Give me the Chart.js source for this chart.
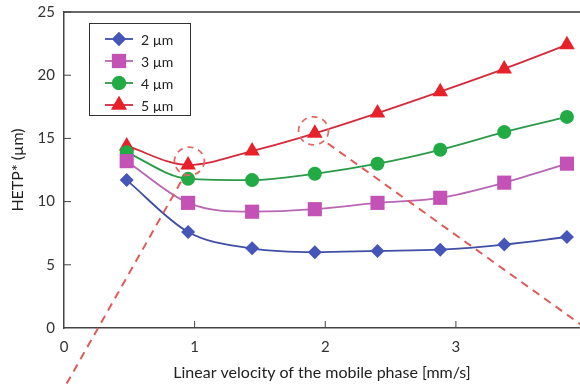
<!DOCTYPE html>
<html>
<head>
<meta charset="utf-8">
<script src="https://cdn.jsdelivr.net/npm/chart.js@4.4.1/dist/chart.umd.min.js"></script>
<style>
  html, body { margin: 0; padding: 0; background: #fff; }
  #wrap { width: 580px; height: 384px; position: relative; }
</style>
</head>
<body>
<div id="wrap"><canvas id="chart"></canvas></div>
<script>
// linear velocity of the mobile phase [mm/s]
var velocity = [0.48, 0.95, 1.44, 1.92, 2.40, 2.88, 3.37, 3.85];
// HETP* (um) per particle size
var hetp2um = [11.7, 7.6, 6.3, 6.0, 6.1, 6.2, 6.6, 7.2];
var hetp3um = [13.2, 9.9, 9.2, 9.4, 9.9, 10.3, 11.5, 13.0];
var hetp4um = [13.9, 11.8, 11.7, 12.2, 13.0, 14.1, 15.5, 16.7];
var hetp5um = [14.4, 12.9, 14.0, 15.4, 17.0, 18.7, 20.5, 22.4];
var seriesLabels = ['2 µm', '3 µm', '4 µm', '5 µm'];

// dashed red guide lines and the circled points
var guideA_x = [0.02, 0.93];
var guideA_y = [-4.4, 12.2];
var guideB_x = [2.02, 3.98];
var guideB_y = [14.6, 0.1];
var circled_x = [0.96, 1.91];
var circled_y = [13.2, 15.6];

var FONT = 'Lato, "Noto Sans", sans-serif';

function pts(xs, ys) {
  return xs.map(function (x, i) { return { x: x, y: ys[i] }; });
}

function series(label, data, line, fill, style, radius) {
  return {
    label: label,
    data: pts(velocity, data),
    borderColor: line,
    backgroundColor: fill,
    borderWidth: 1.8,
    pointStyle: style,
    pointRadius: radius,
    pointBorderWidth: 0,
    pointBackgroundColor: fill,
    tension: 0.4,
    cubicInterpolationMode: 'monotone',
    isSeries: true
  };
}

function guide(xs, ys) {
  return {
    label: 'guide',
    data: pts(xs, ys),
    borderColor: '#e05a5a',
    borderWidth: 2,
    borderDash: [8, 6],
    pointRadius: 0,
    clip: false,
    order: -1,
    isSeries: false
  };
}

var extras = {
  id: 'extras',
  afterDraw: function (chart) {
    var ctx = chart.ctx;
    var area = chart.chartArea;
    var xs = chart.scales.x, ys = chart.scales.y;
    ctx.save();

    // top frame line
    ctx.strokeStyle = '#333';
    ctx.lineWidth = 1.3;
    ctx.beginPath();
    ctx.moveTo(area.left, area.top);
    ctx.lineTo(area.right, area.top);
    ctx.stroke();

    // inside tick marks
    ctx.lineWidth = 1;
    ctx.strokeStyle = '#444';
    xs.ticks.forEach(function (t) {
      if (t.value === 0) return;
      var px = xs.getPixelForValue(t.value);
      ctx.beginPath();
      ctx.moveTo(px, area.bottom);
      ctx.lineTo(px, area.bottom - 7);
      ctx.stroke();
    });
    ys.ticks.forEach(function (t) {
      if (t.value === 0) return;
      var py = ys.getPixelForValue(t.value);
      ctx.beginPath();
      ctx.moveTo(area.left, py);
      ctx.lineTo(area.left + 7, py);
      ctx.stroke();
    });

    // dashed circles round the marked points
    ctx.strokeStyle = '#e06a6a';
    ctx.lineWidth = 1.8;
    ctx.setLineDash([6, 5]);
    circled_x.forEach(function (cx, i) {
      ctx.beginPath();
      ctx.ellipse(xs.getPixelForValue(cx), ys.getPixelForValue(circled_y[i]), 15, 14, 0, 0, Math.PI * 2);
      ctx.stroke();
    });
    ctx.setLineDash([]);

    // legend box
    var bx = 89, by = 23, bw = 101, bh = 92;
    ctx.fillStyle = '#fff';
    ctx.fillRect(bx, by, bw, bh);
    ctx.strokeStyle = '#333';
    ctx.lineWidth = 1;
    ctx.strokeRect(bx + 0.5, by + 0.5, bw, bh);
    ctx.font = '14px ' + FONT;
    ctx.textBaseline = 'middle';
    var row = 0;
    chart.data.datasets.forEach(function (ds) {
      if (!ds.isSeries) return;
      var y = by + 16 + row * 22;
      ctx.strokeStyle = ds.borderColor;
      ctx.lineWidth = 1.8;
      ctx.beginPath();
      ctx.moveTo(bx + 16, y);
      ctx.lineTo(bx + 44, y);
      ctx.stroke();
      ctx.fillStyle = ds.pointBackgroundColor;
      Chart.helpers.drawPoint(ctx, { pointStyle: ds.pointStyle, radius: ds.pointRadius, borderWidth: 0 }, bx + 30, y);
      ctx.fill();
      ctx.fillStyle = '#222';
      ctx.fillText(ds.label, bx + 52, y + 1);
      row++;
    });
    ctx.restore();
  }
};

new Chart(document.getElementById('chart'), {
  type: 'line',
  data: {
    datasets: [
      series(seriesLabels[0], hetp2um, '#3f4fa5', '#4655b8', 'rectRot', 7),
      series(seriesLabels[1], hetp3um, '#b866b4', '#c452b6', 'rect', 10),
      series(seriesLabels[2], hetp4um, '#2a9a48', '#22aa44', 'circle', 7),
      series(seriesLabels[3], hetp5um, '#d42a3a', '#e8202a', 'triangle', 9),
      guide(guideA_x, guideA_y),
      guide(guideB_x, guideB_y)
    ]
  },
  options: {
    responsive: true,
    maintainAspectRatio: false,
    animation: false,
    layout: { autoPadding: false, padding: { top: 12, right: 0, left: 0, bottom: 0 } },
    plugins: {
      legend: { display: false },
      tooltip: { enabled: false }
    },
    scales: {
      x: {
        type: 'linear',
        min: 0,
        max: 3.95,
        grid: { display: false, drawTicks: false },
        border: { display: true, color: '#444', width: 1.5 },
        ticks: {
          stepSize: 1,
          includeBounds: false,
          padding: 10,
          color: '#333',
          font: { family: FONT, size: 15 }
        },
        title: {
          display: true,
          text: 'Linear velocity of the mobile phase [mm/s]',
          color: '#222',
          font: { family: FONT, size: 16 },
          padding: { top: 0, bottom: 2 }
        },
        afterFit: function (scale) {
          scale.height = 56;
          scale.paddingLeft = 0;
          scale.paddingRight = 0;
        }
      },
      y: {
        min: 0,
        max: 25,
        grid: { display: false, drawTicks: false },
        border: { display: true, color: '#444', width: 1.5 },
        ticks: {
          stepSize: 5,
          padding: 9,
          color: '#333',
          font: { family: FONT, size: 15 }
        },
        title: {
          display: true,
          text: 'HETP* (µm)',
          color: '#222',
          font: { family: FONT, size: 16 },
          padding: { top: 8, bottom: 0 }
        },
        afterFit: function (scale) {
          scale.width = 64;
          scale.paddingTop = 0;
          scale.paddingBottom = 0;
        }
      }
    }
  },
  plugins: [extras]
});
</script>
</body>
</html>
